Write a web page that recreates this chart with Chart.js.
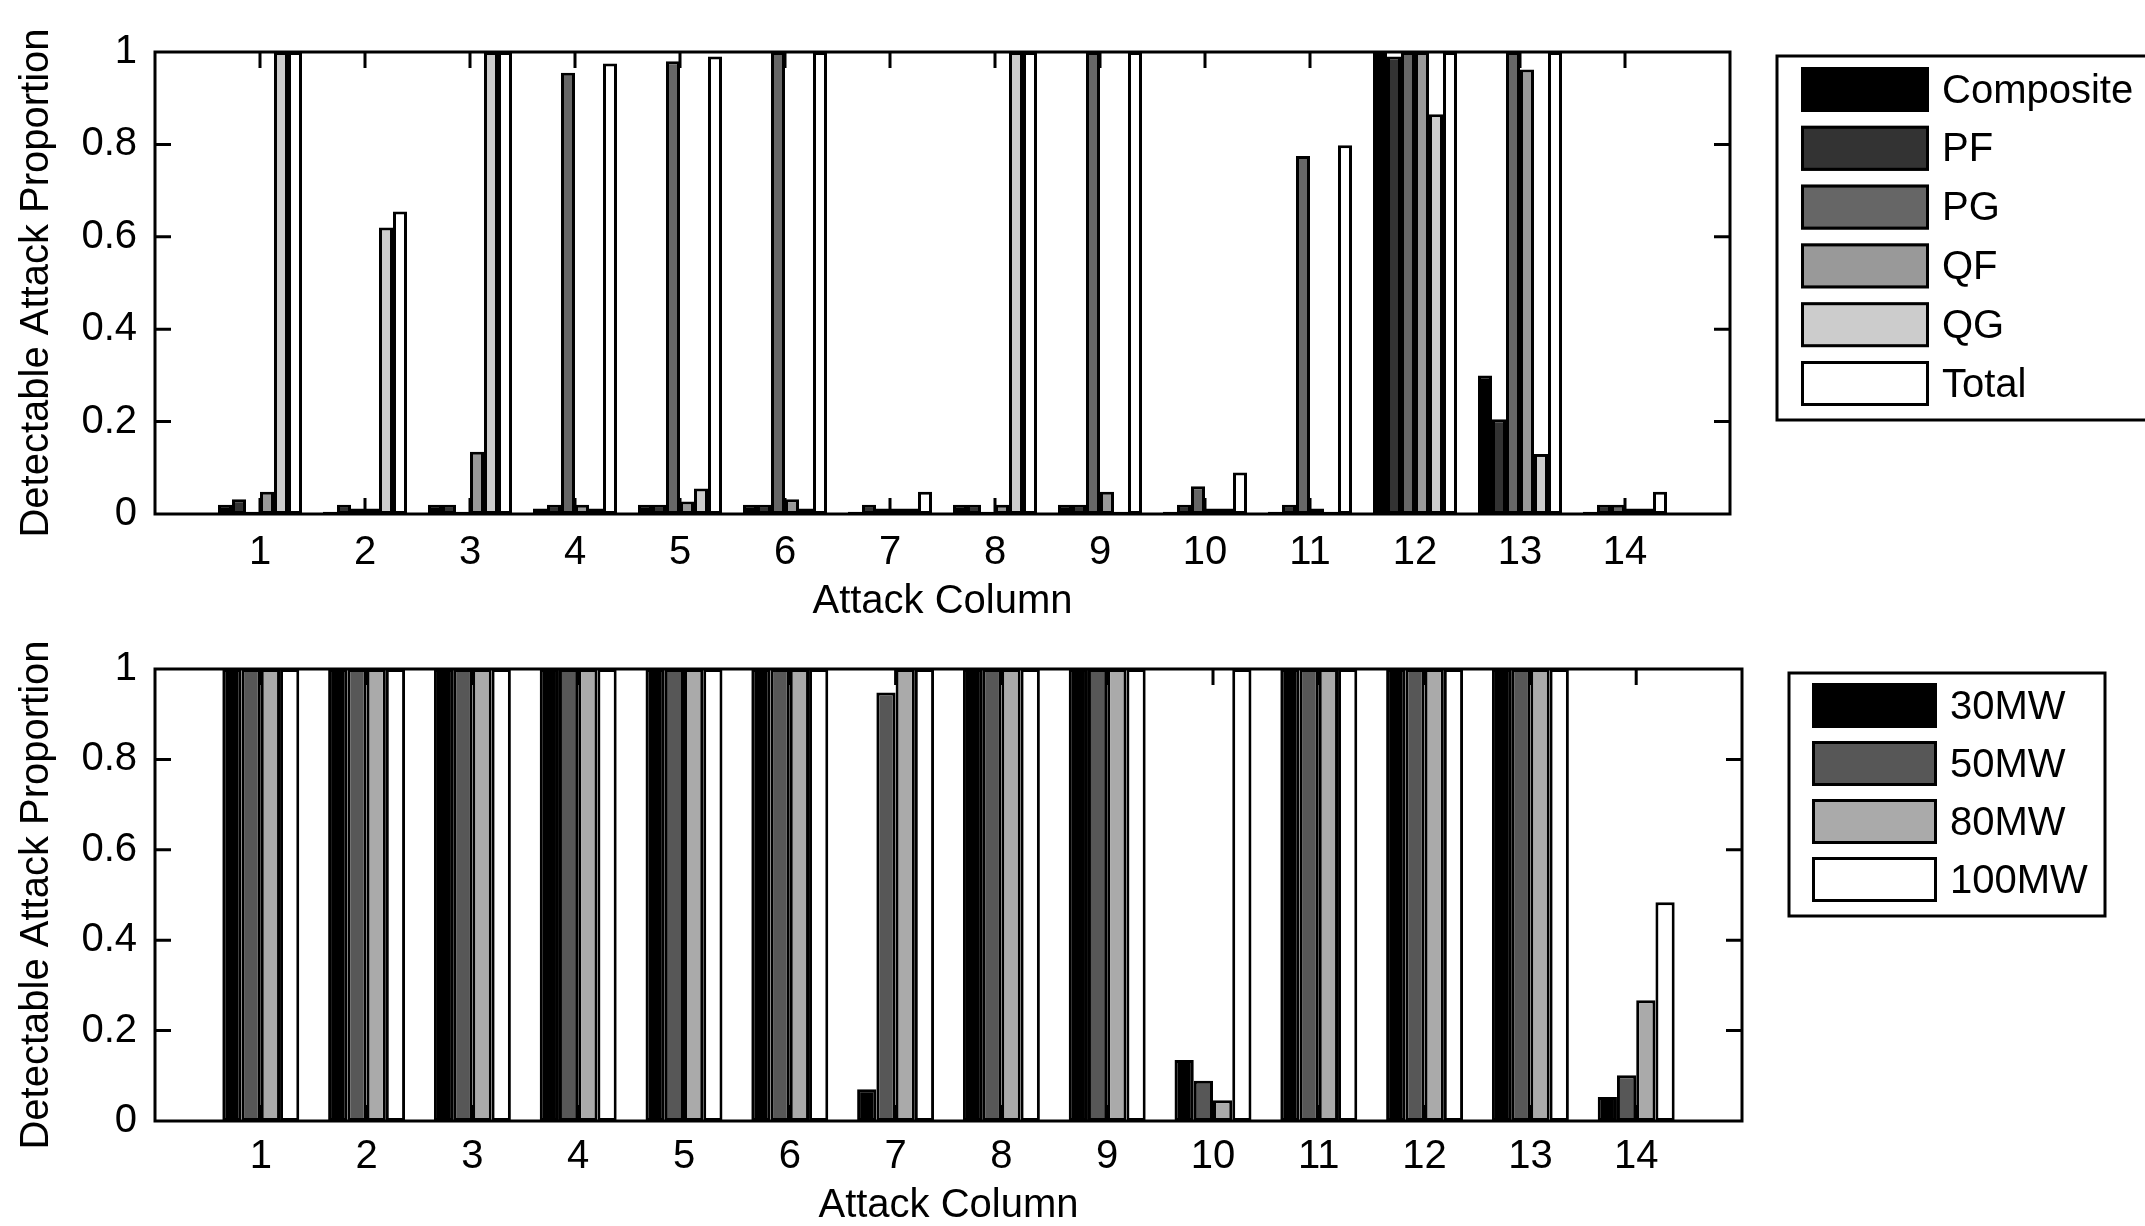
<!DOCTYPE html>
<html>
<head>
<meta charset="utf-8">
<script src="https://cdn.jsdelivr.net/npm/chart.js@4.4.1/dist/chart.umd.min.js"></script>
<style>
html, body { margin: 0; padding: 0; background: #fff; overflow: hidden; width: 2145px; height: 1226px; }
canvas { position: absolute; left: 0; }
#c1 { top: 0; }
#c2 { top: 625px; }
</style>
</head>
<body>
<canvas id="c1" width="2145" height="625"></canvas>
<canvas id="c2" width="2145" height="601"></canvas>
<script>
// ---------------- data ----------------
const categories = [1, 2, 3, 4, 5, 6, 7, 8, 9, 10, 11, 12, 13, 14];

// top panel (attack types)
const topLabels = ['Composite', 'PF', 'PG', 'QF', 'QG', 'Total'];
const composite = [0.02, 0.005, 0.02, 0.012, 0.02, 0.02, 0.005, 0.02, 0.02, 0.005, 0.005, 1.0, 0.30, 0.005];
const pf        = [0.032, 0.02, 0.02, 0.02, 0.02, 0.02, 0.02, 0.02, 0.02, 0.02, 0.02, 0.99, 0.205, 0.02];
const pg        = [0.005, 0.012, 0.005, 0.955, 0.98, 1.0, 0.012, 0.005, 1.0, 0.06, 0.775, 1.0, 1.0, 0.02];
const qf        = [0.048, 0.012, 0.135, 0.02, 0.027, 0.032, 0.012, 0.02, 0.048, 0.012, 0.012, 1.0, 0.962, 0.012];
const qg        = [1.0, 0.62, 1.0, 0.012, 0.055, 0.012, 0.012, 1.0, 0.005, 0.012, 0.005, 0.865, 0.13, 0.012];
const total     = [1.0, 0.655, 1.0, 0.975, 0.99, 1.0, 0.048, 1.0, 1.0, 0.09, 0.798, 1.0, 1.0, 0.048];
const topSeries = [composite, pf, pg, qf, qg, total];
const topColors = ['#000000', '#333333', '#666666', '#999999', '#cccccc', '#ffffff'];

// bottom panel (attack magnitudes)
const bottomLabels = ['30MW', '50MW', '80MW', '100MW'];
const mw30  = [1, 1, 1, 1, 1, 1, 0.07, 1, 1, 0.135, 1, 1, 1, 0.053];
const mw50  = [1, 1, 1, 1, 1, 1, 0.948, 1, 1, 0.089, 1, 1, 1, 0.101];
const mw80  = [1, 1, 1, 1, 1, 1, 1, 1, 1, 0.046, 1, 1, 1, 0.267];
const mw100 = [1, 1, 1, 1, 1, 1, 1, 1, 1, 1, 1, 1, 1, 0.484];
const bottomSeries = [mw30, mw50, mw80, mw100];
const bottomColors = ['#000000', '#575757', '#aaaaaa', '#ffffff'];

const yTicks = [0, 0.2, 0.4, 0.6, 0.8, 1];
const yTickLabels = ['0', '0.2', '0.4', '0.6', '0.8', '1'];
const xTitle = 'Attack Column';
const yTitle = 'Detectable Attack Proportion';

// ---------------- styling ----------------
const FONT = '"Liberation Sans", Arial, Helvetica, sans-serif';
const FS = 40;
Chart.defaults.font.family = FONT;
Chart.defaults.font.size = FS;
Chart.defaults.color = '#000';

const matlabFrame = {
  id: 'matlabFrame',
  afterDatasetsDraw(chart) {
    const { ctx, chartArea: a, scales: { x, y } } = chart;
    const L = 16;
    ctx.save();
    ctx.strokeStyle = '#000';
    ctx.lineWidth = 3;
    ctx.beginPath();
    x.ticks.forEach(t => {
      if (t.value <= x.min || t.value >= x.max) return;
      const px = x.getPixelForValue(t.value);
      ctx.moveTo(px, a.bottom); ctx.lineTo(px, a.bottom - L);
      ctx.moveTo(px, a.top); ctx.lineTo(px, a.top + L);
    });
    y.ticks.forEach(t => {
      if (t.value <= y.min || t.value >= y.max) return;
      const py = y.getPixelForValue(t.value);
      ctx.moveTo(a.left, py); ctx.lineTo(a.left + L, py);
      ctx.moveTo(a.right, py); ctx.lineTo(a.right - L, py);
    });
    ctx.stroke();
    ctx.strokeRect(a.left, a.top, a.right - a.left, a.bottom - a.top);
    ctx.restore();
  }
};

const boxLegend = {
  id: 'boxLegend',
  afterDraw(chart, args, o) {
    const ctx = chart.ctx;
    ctx.save();
    ctx.lineWidth = 3;
    ctx.strokeStyle = '#000';
    ctx.fillStyle = '#fff';
    ctx.fillRect(o.x, o.y, o.w, o.h);
    ctx.strokeRect(o.x, o.y, o.w, o.h);
    ctx.font = FS + 'px ' + FONT;
    ctx.textBaseline = 'middle';
    ctx.textAlign = 'left';
    chart.data.datasets.forEach((ds, i) => {
      const top = o.rowTop + i * o.pitch;
      ctx.fillStyle = ds.backgroundColor;
      ctx.fillRect(o.swX, top, o.swW, o.swH);
      ctx.strokeRect(o.swX + 1.5, top + 1.5, o.swW - 3, o.swH - 3);
      ctx.fillStyle = '#000';
      ctx.fillText(ds.label, o.textX, top + o.swH / 2 + 2);
    });
    ctx.restore();
  }
};

function makeDatasets(labels, series, colors, catPct) {
  return series.map((vals, i) => ({
    label: labels[i],
    data: categories.map((c, j) => ({ x: c, y: vals[j] })),
    backgroundColor: colors[i],
    borderColor: '#000',
    borderWidth: 3,
    borderSkipped: false,
    barPercentage: 1,
    categoryPercentage: catPct
  }));
}

function makeChart(id, datasets, cfg) {
  return new Chart(document.getElementById(id), {
    type: 'bar',
    data: { datasets },
    plugins: [matlabFrame, boxLegend],
    options: {
      responsive: false,
      animation: false,
      devicePixelRatio: 1,
      layout: { padding: { top: cfg.padTop, right: cfg.padRight, left: 0, bottom: 0 } },
      plugins: {
        legend: { display: false },
        tooltip: { enabled: false },
        boxLegend: cfg.legend
      },
      scales: {
        x: {
          type: 'linear',
          min: 0,
          max: categories.length + 1,
          offset: false,
          afterFit: s => { s.height = cfg.xHeight; },
          grid: { display: false, drawTicks: false },
          border: { display: false },
          ticks: {
            stepSize: 1,
            autoSkip: false,
            maxRotation: 0,
            padding: cfg.xTickPad,
            font: { size: FS },
            callback: v => (categories.includes(v) ? String(v) : '')
          },
          title: { display: true, text: xTitle, font: { size: FS, lineHeight: 1 }, padding: { top: 0, bottom: cfg.xTitlePad } }
        },
        y: {
          min: 0,
          max: 1,
          afterFit: s => { s.width = 155; },
          afterBuildTicks: s => { s.ticks = yTicks.map(v => ({ value: v })); },
          grid: { display: false, drawTicks: false },
          border: { display: false },
          ticks: {
            padding: 18,
            font: { size: FS },
            callback: v => { const k = yTicks.findIndex(t => Math.abs(t - v) < 1e-9); return k >= 0 ? yTickLabels[k] : ''; }
          },
          title: { display: true, text: yTitle, font: { size: FS, lineHeight: 1 }, padding: { top: 17, bottom: 0 } }
        }
      }
    }
  });
}

makeChart('c1',
  makeDatasets(topLabels, topSeries, topColors, 0.8),
  {
    padTop: 52, padRight: 415, xHeight: 111, xTickPad: 15, xTitlePad: 3,
    legend: { x: 1777, y: 56, w: 420, h: 364, rowTop: 67, pitch: 58.8, swX: 1801, swW: 128, swH: 45, textX: 1942 }
  });

makeChart('c2',
  makeDatasets(bottomLabels, bottomSeries, bottomColors, 4 / 5.5),
  {
    padTop: 44, padRight: 403, xHeight: 105, xTickPad: 12, xTitlePad: 0,
    legend: { x: 1789, y: 48, w: 316, h: 243, rowTop: 58, pitch: 58, swX: 1812, swW: 125, swH: 45, textX: 1950 }
  });
</script>
</body>
</html>
